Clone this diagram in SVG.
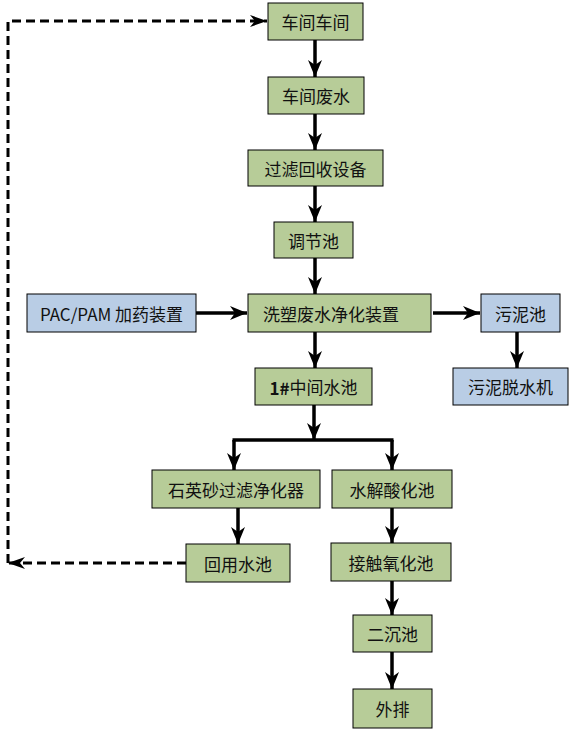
<svg xmlns="http://www.w3.org/2000/svg" width="580" height="731" viewBox="0 0 580 731">
<style>
.g{fill:#b7cc98;stroke:#000;stroke-width:1}
.b{fill:#b9cde5;stroke:#000;stroke-width:1}
text{font-family:"Noto Sans CJK SC","Liberation Sans",sans-serif;font-size:17px;fill:#111;text-anchor:middle;dominant-baseline:central}
.s{fill:none;stroke:#000;stroke-width:3.5}
.d{fill:none;stroke:#000;stroke-width:3;stroke-dasharray:9,5}
</style>
<defs>
<marker id="a" markerUnits="userSpaceOnUse" markerWidth="18" markerHeight="16" viewBox="0 0 18 16" refX="17" refY="8" orient="auto">
<path d="M0,1 L17,8 L0,15 L5,8 z" fill="#000"/>
</marker>
<marker id="ad" markerUnits="userSpaceOnUse" markerWidth="18" markerHeight="14" viewBox="0 0 18 14" refX="17" refY="7" orient="auto">
<path d="M0,1 L17,7 L0,13 L5,7 z" fill="#000"/>
</marker>
</defs>
<g id="connectors">
<path class="s" d="M315,40 V77" marker-end="url(#a)"/>
<path class="s" d="M315,114 V150" marker-end="url(#a)"/>
<path class="s" d="M315,186 V222" marker-end="url(#a)"/>
<path class="s" d="M315,258 V294" marker-end="url(#a)"/>
<path class="s" d="M196,313 H247" marker-end="url(#a)"/>
<path class="s" d="M433,313 H480" marker-end="url(#a)"/>
<path class="s" d="M315,332 V368" marker-end="url(#a)"/>
<path class="s" d="M517,332 V368" marker-end="url(#a)"/>
<path class="s" d="M314,405 V440" marker-end="url(#a)"/>
<path class="s" d="M232.5,440 H393.5" stroke-width="3"/>
<path class="s" d="M234,440 V470" stroke-width="3" marker-end="url(#a)"/>
<path class="s" d="M392,440 V470" stroke-width="3" marker-end="url(#a)"/>
<path class="s" d="M238,508 V544" marker-end="url(#a)"/>
<path class="s" d="M392,508 V543" marker-end="url(#a)"/>
<path class="s" d="M392,581 V615" marker-end="url(#a)"/>
<path class="s" d="M392,652 V689" marker-end="url(#a)"/>
<path class="d" d="M186,563 H8" marker-end="url(#ad)"/>
<path class="d" d="M8,563 V21 H267" marker-end="url(#ad)"/>
</g>
<g id="n1"><rect class="g" x="268" y="3" width="95" height="37"/><text x="315.5" y="21.5">车间车间</text></g>
<g id="n2"><rect class="g" x="268" y="77" width="96" height="37"/><text x="316" y="95.5">车间废水</text></g>
<g id="n3"><rect class="g" x="248" y="150" width="135" height="36"/><text x="315.5" y="168">过滤回收设备</text></g>
<g id="n4"><rect class="g" x="274" y="222" width="79" height="36"/><text x="313.5" y="240">调节池</text></g>
<g id="n5"><rect class="b" x="27" y="294" width="169" height="38"/><text x="111.5" y="313">PAC/PAM 加药装置</text></g>
<g id="n6"><rect class="g" x="248" y="294" width="183" height="38"/><text x="331" y="313">洗塑废水净化装置</text></g>
<g id="n7"><rect class="b" x="481" y="294" width="79" height="38"/><text x="520.5" y="313">污泥池</text></g>
<g id="n8"><rect class="b" x="453" y="368" width="115" height="37"/><text x="510.5" y="386.5">污泥脱水机</text></g>
<g id="n9"><rect class="g" x="255" y="368" width="117" height="37"/><text x="313.5" y="386.5"><tspan font-weight="bold">1#</tspan>中间水池</text></g>
<g id="n10"><rect class="g" x="152" y="470" width="168" height="38"/><text x="236" y="489">石英砂过滤净化器</text></g>
<g id="n11"><rect class="g" x="332" y="470" width="120" height="38"/><text x="392" y="489">水解酸化池</text></g>
<g id="n12"><rect class="g" x="186" y="544" width="104" height="38"/><text x="238" y="563">回用水池</text></g>
<g id="n13"><rect class="g" x="331" y="543" width="120" height="38"/><text x="391" y="562">接触氧化池</text></g>
<g id="n14"><rect class="g" x="353" y="615" width="79" height="37"/><text x="392.5" y="633.5">二沉池</text></g>
<g id="n15"><rect class="g" x="353" y="689" width="79" height="39"/><text x="392.5" y="708.5">外排</text></g>
</svg>
